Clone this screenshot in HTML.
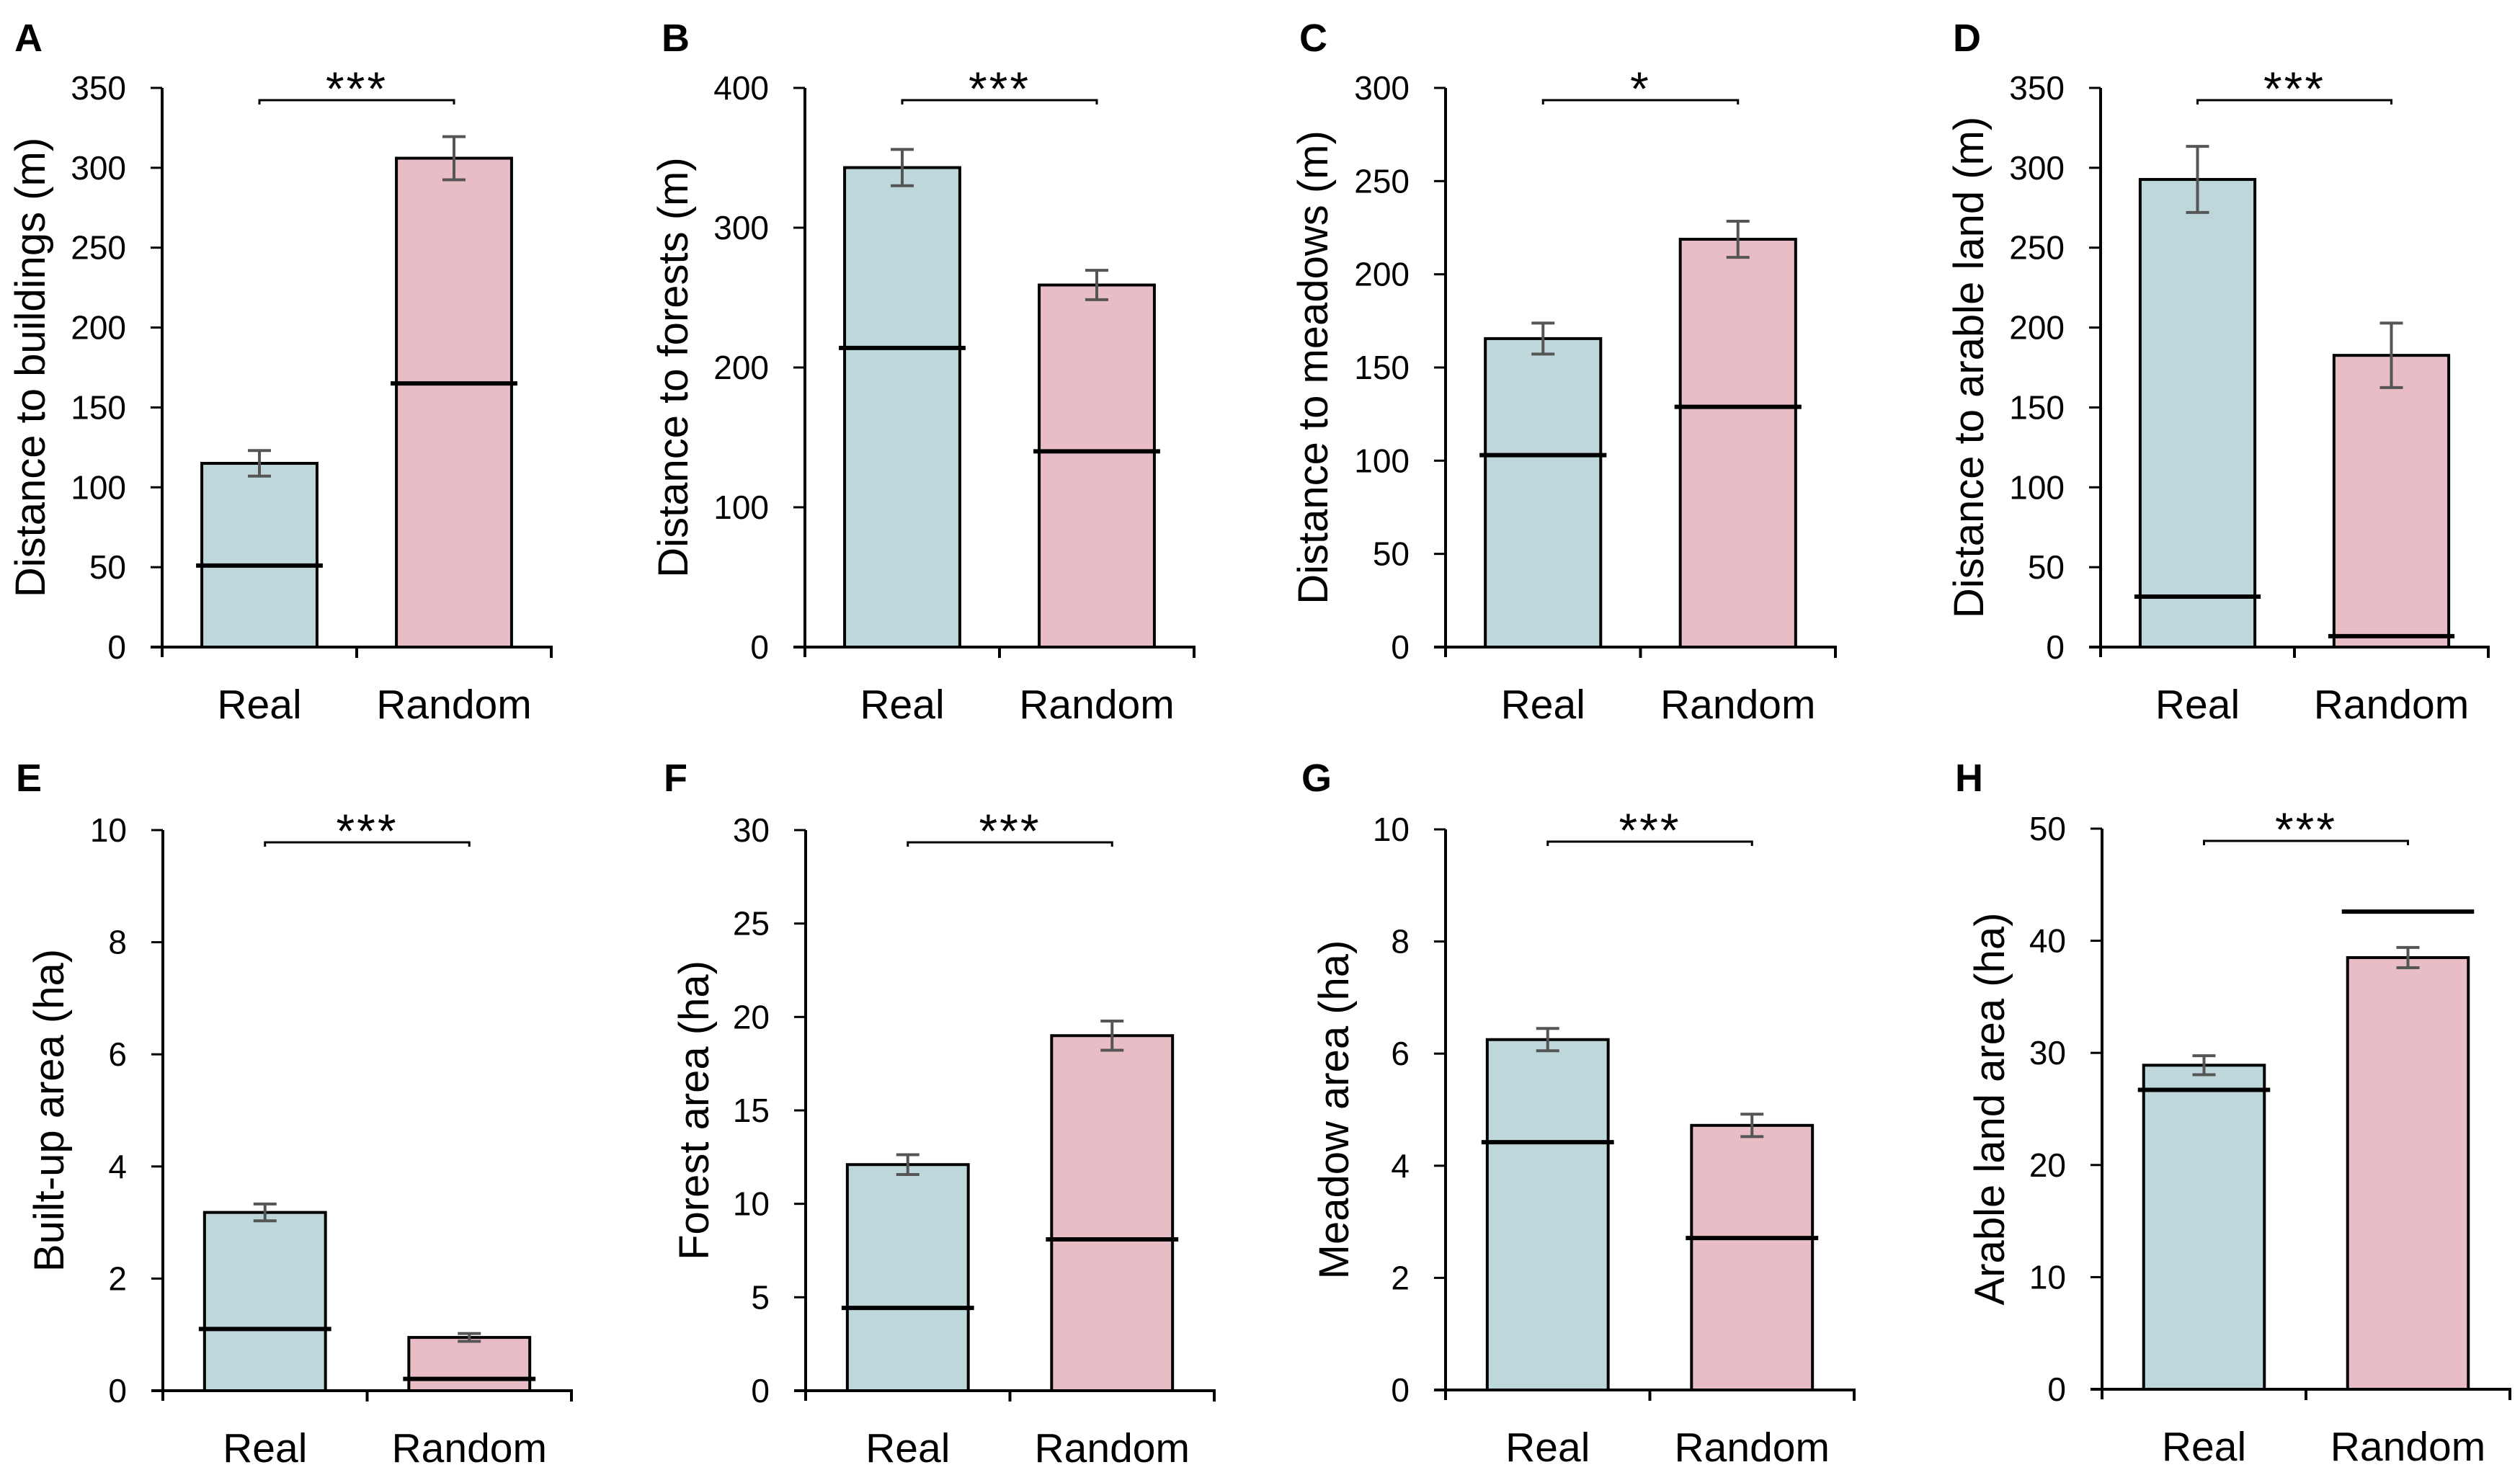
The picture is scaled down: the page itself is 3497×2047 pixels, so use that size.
<!DOCTYPE html>
<html><head><meta charset="utf-8"><style>
html,body{margin:0;padding:0;background:#fff;}
svg{display:block;font-family:"Liberation Sans",Arial,sans-serif;}
</style></head><body>
<svg id="fig" width="3497" height="2047" viewBox="0 0 3497 2047" xmlns="http://www.w3.org/2000/svg"></svg>
<script>
const panelLetters = ["A","B","C","D","E","F","G","H"];
const yTitles = ["Distance to buildings (m)","Distance to forests (m)","Distance to meadows (m)","Distance to arable land (m)","Built-up area (ha)","Forest area (ha)","Meadow area (ha)","Arable land area (ha)"];
const yMaxValues = [350,400,300,350,10,30,10,50];
const yStepValues = [50,100,50,50,2,5,2,10];
const categories = ["Real","Random"];
const realMeans = [115,343,165.5,292.7,3.18,12.1,6.25,28.9];
const randomMeans = [306,259,218.8,182.6,0.95,19.0,4.72,38.5];
const realErrors = [8,13,8.3,20.7,0.15,0.53,0.2,0.85];
const randomErrors = [13.5,10.5,9.7,20.2,0.07,0.78,0.2,0.9];
const realMedians = [51,214,103,31.6,1.1,4.43,4.42,26.7];
const randomMedians = [165,140,128.9,6.8,0.21,8.1,2.71,42.6];
const significance = ["***","***","*","***","***","***","***","***"];

// layout (pixel geometry, not data)
const layout = [
 {ax:225,right:765,top:122,bottom:898,lx:20,ly:71,tx:62},
 {ax:1117,right:1657,top:122,bottom:898,lx:918,ly:71,tx:954},
 {ax:2006,right:2547,top:122,bottom:898,lx:1803,ly:71,tx:1842},
 {ax:2915,right:3453,top:122,bottom:898,lx:2710,ly:71,tx:2752},
 {ax:226,right:793,top:1152,bottom:1930,lx:22,ly:1098,tx:88},
 {ax:1118,right:1685,top:1152,bottom:1930,lx:921,ly:1098,tx:983},
 {ax:2006,right:2573,top:1151,bottom:1929,lx:1806,ly:1098,tx:1871},
 {ax:2917,right:3483,top:1150,bottom:1928,lx:2713,ly:1098,tx:2781}
];
const fills = ["#bdd7da","#e9bdc6"];
const NS="http://www.w3.org/2000/svg";
const svg=document.getElementById('fig');
function mk(tag,attrs,parent){const e=document.createElementNS(NS,tag);for(const k in attrs)e.setAttribute(k,attrs[k]);(parent||svg).appendChild(e);return e;}

for(let p=0;p<8;p++){
  const L=layout[p];
  const g=mk('g',{});
  
  
  const yScale=v=>L.bottom-(v/yMaxValues[p])*(L.bottom-L.top);
  const span=L.right-L.ax;
  const xCenters=[L.ax+span*0.25,L.ax+span*0.75];
  const bw=span*0.296;

  const letter=mk('text',{x:L.lx,y:L.ly,'font-size':54,'font-weight':'bold',fill:'#000'},g);
  letter.textContent=panelLetters[p];
  
  

  const cy=(L.top+L.bottom)/2;
  const yt=mk('text',{x:0,y:0,transform:`translate(${L.tx},${cy}) rotate(-90)`,'text-anchor':'middle','font-size':58,fill:'#000'},g);
  yt.textContent=yTitles[p];
  
  

  for(let v=0;v<=yMaxValues[p]+1e-9;v+=yStepValues[p]){
    const y=yScale(v);
    const tk=mk('line',{x1:L.ax-16,x2:L.ax,y1:y,y2:y,stroke:'#000','stroke-width':3},g);
    
    
    const tl=mk('text',{x:L.ax-50,y:y+16,'text-anchor':'end','font-size':46,fill:'#000'},g);
    tl.textContent=String(Math.round(v*100)/100);
    
    
  }

  const means=[realMeans[p],randomMeans[p]];
  const errs=[realErrors[p],randomErrors[p]];
  const meds=[realMedians[p],randomMedians[p]];
  for(let i=0;i<2;i++){
    const cx=xCenters[i];
    const yv=yScale(means[i]);
    const bar=mk('rect',{x:cx-bw/2,y:yv,width:bw,height:L.bottom-yv,fill:fills[i],stroke:'#000','stroke-width':4},g);
    
    
    const md=mk('line',{x1:cx-bw/2-8,x2:cx+bw/2+8,y1:yScale(meds[i]),y2:yScale(meds[i]),stroke:'#000','stroke-width':6},g);
    
    
    const eg=mk('g',{stroke:'#555','stroke-width':4},g);
    
    
    const yh=yScale(means[i]+errs[i]), yl=yScale(means[i]-errs[i]);
    mk('line',{x1:cx,x2:cx,y1:yh,y2:yl},eg);
    mk('line',{x1:cx-16,x2:cx+16,y1:yh,y2:yh},eg);
    mk('line',{x1:cx-16,x2:cx+16,y1:yl,y2:yl},eg);
    const cl=mk('text',{x:cx,y:L.bottom+99,'text-anchor':'middle','font-size':57,fill:'#000'},g);
    cl.textContent=categories[i];
    
    
  }

  const yaxis=mk('line',{x1:L.ax,x2:L.ax,y1:L.top,y2:L.bottom+14,stroke:'#000','stroke-width':4},g);
  
  
  const xaxis=mk('line',{x1:L.ax-16,x2:L.right+2,y1:L.bottom,y2:L.bottom,stroke:'#000','stroke-width':4},g);
  
  
  [ (L.ax+L.right)/2, L.right ].forEach(x=>{
    const t=mk('line',{x1:x,x2:x,y1:L.bottom,y2:L.bottom+15,stroke:'#000','stroke-width':4},g);
    
    
  });

  const by=L.top+17;
  const br=mk('path',{d:`M${xCenters[0]},${by+6} V${by} H${xCenters[1]} V${by+6}`,fill:'none',stroke:'#000','stroke-width':3},g);
  
  
  const st=mk('text',{x:(xCenters[0]+xCenters[1])/2,y:by+7,'text-anchor':'middle','font-size':66,'letter-spacing':'3',fill:'#000'},g);
  st.textContent=significance[p];
  
  
}
</script>
</body></html>
